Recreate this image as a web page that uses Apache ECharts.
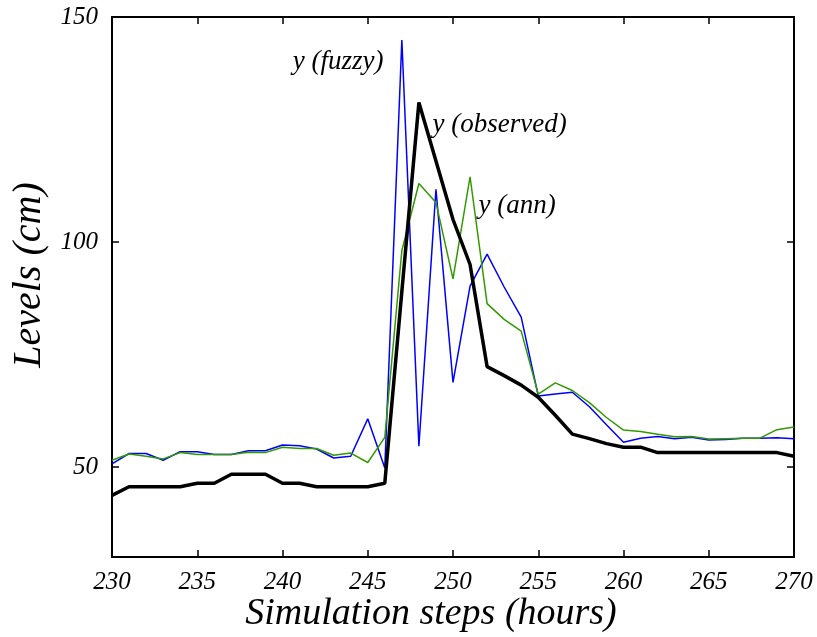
<!DOCTYPE html>
<html>
<head>
<meta charset="utf-8">
<script src="https://cdn.jsdelivr.net/npm/echarts@6/dist/echarts.min.js"></script>
<style>
html,body{margin:0;padding:0;background:#fff;}
#c{width:817px;height:637px;}
</style>
</head>
<body>
<div id="c"></div>
<script>
var steps = [230,231,232,233,234,235,236,237,238,239,240,241,242,243,244,245,246,247,248,249,250,251,252,253,254,255,256,257,258,259,260,261,262,263,264,265,266,267,268,269,270];
var observed = [43.7,45.6,45.6,45.6,45.6,46.4,46.4,48.4,48.4,48.4,46.4,46.4,45.6,45.6,45.6,45.6,46.4,89,131,118,105,95,72.3,70.3,68.2,65.5,61.5,57.3,56.3,55.2,54.4,54.4,53.2,53.2,53.2,53.2,53.2,53.2,53.2,53.2,52.4];
var fuzzy = [50.7,53,53,51.5,53.4,53.4,52.8,52.8,53.6,53.6,54.9,54.7,54,52,52.4,60.7,49.8,144.9,54.6,111.7,68.8,90.2,97.3,90,83.3,65.8,66.2,66.6,63.4,59.4,55.5,56.4,56.8,56.3,56.6,56,56.1,56.4,56.4,56.5,56.3];
var ann = [51.5,52.9,52.4,51.8,53.2,52.8,52.8,52.8,53.3,53.2,54.4,54.1,54.1,52.6,53.1,51,56.6,98.1,113,108.8,91.8,114.5,86.3,82.8,80.2,66.2,68.7,67,64.3,61,58.2,57.9,57.3,56.7,56.8,56.2,56.3,56.4,56.4,58.3,58.9];
var yTicks = [50,100,150];
var annNames = ['y (fuzzy)','y (observed)','y (ann)'];
var annX = [240.6,248.8,251.5];
var annY = [140,126.1,108];

function pairs(xs, ys){ return xs.map(function(x,i){ return [x, ys[i]]; }); }

var FONT = 'Liberation Serif';
var chart = echarts.init(document.getElementById('c'));
var tickStyle = {show:true, inside:true, length:7, lineStyle:{color:'#000', width:1.5}};
var lineStyle = {color:'#000', width:2};
chart.setOption({
  animation:false,
  backgroundColor:'#fff',
  grid:{left:112, right:23, top:17, bottom:80, containLabel:false},
  xAxis:[{
    type:'value', min:230, max:270, interval:5,
    axisLine:{show:true, onZero:false, lineStyle:lineStyle},
    axisTick:tickStyle,
    splitLine:{show:false},
    axisLabel:{color:'#000', fontFamily:FONT, fontStyle:'italic', fontSize:25, margin:13}
  },{
    type:'value', position:'top', min:230, max:270, interval:5,
    axisLine:{show:true, onZero:false, lineStyle:lineStyle},
    axisTick:tickStyle, axisLabel:{show:false}, splitLine:{show:false}
  }],
  yAxis:[{
    type:'value', min:30, max:150,
    axisLine:{show:true, onZero:false, lineStyle:lineStyle},
    axisTick:Object.assign({customValues:yTicks}, tickStyle),
    splitLine:{show:false},
    axisLabel:{customValues:yTicks, color:'#000', fontFamily:FONT, fontStyle:'italic', fontSize:25, margin:14}
  },{
    type:'value', position:'right', min:30, max:150,
    axisLine:{show:true, onZero:false, lineStyle:lineStyle},
    axisTick:Object.assign({customValues:yTicks}, tickStyle),
    axisLabel:{show:false}, splitLine:{show:false}
  }],
  graphic:[
    {type:'text', x:431, y:614, style:{text:'Simulation steps (hours)', align:'center', verticalAlign:'middle', font:'italic 38px "Liberation Serif"', fill:'#000'}},
    {type:'text', rotation:Math.PI/2, x:29, y:275, style:{text:'Levels (cm)', align:'center', verticalAlign:'middle', font:'italic 40px "Liberation Serif"', fill:'#000'}}
  ],
  series:[
    {type:'line', data:pairs(steps,fuzzy), symbol:'none', lineStyle:{color:'#0000ff', width:1.5}, z:3},
    {type:'line', data:pairs(steps,ann), symbol:'none', lineStyle:{color:'#339900', width:1.5}, z:4},
    {type:'line', data:pairs(steps,observed), symbol:'none', lineStyle:{color:'#000', width:3.5}, z:5},
    {type:'scatter', symbolSize:0, z:6, itemStyle:{opacity:1},
     data:annX.map(function(x,i){ return {value:[x, annY[i]], name:annNames[i]}; }),
     label:{show:true, position:'right', distance:0, formatter:'{b}', color:'#000', opacity:1, fontFamily:FONT, fontStyle:'italic', fontSize:27}}
  ]
});
</script>
</body>
</html>
